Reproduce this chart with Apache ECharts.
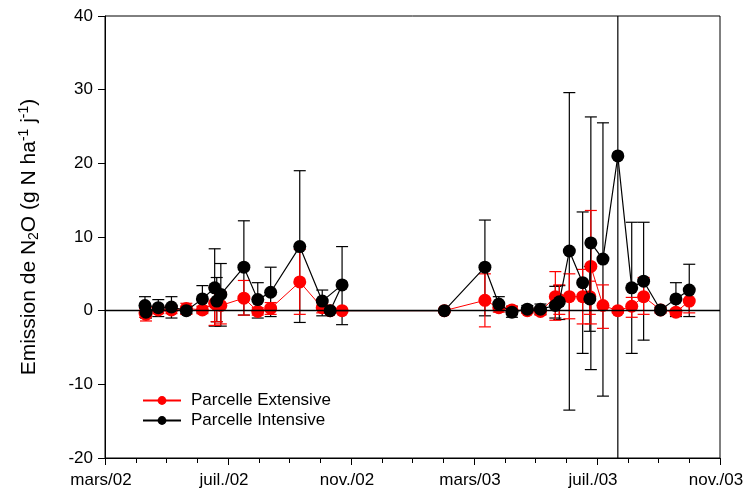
<!DOCTYPE html>
<html>
<head>
<meta charset="utf-8">
<script src="https://cdn.jsdelivr.net/npm/echarts@6/dist/echarts.min.js"></script>
<style>
  html, body { margin: 0; padding: 0; background: #fff; }
  #chart { width: 745px; height: 495px; }
</style>
</head>
<body>
<div id="chart"></div>
<script>
// Sampling dates (in plotting order)
const sampleDates = [
  '2002-04-10', '2002-04-11', '2002-04-23', '2002-05-06', '2002-05-21',
  '2002-06-06', '2002-06-18', '2002-06-20', '2002-06-24', '2002-07-17',
  '2002-07-31', '2002-08-13', '2002-09-11', '2002-10-03', '2002-10-23',
  '2002-10-11', '2003-02-02', '2003-03-12', '2003-03-26', '2003-04-08',
  '2003-04-23', '2003-05-06', '2003-05-21', '2003-05-25', '2003-06-04',
  '2003-06-17', '2003-06-24', '2003-06-25', '2003-07-07', '2003-07-22',
  '2003-08-05', '2003-08-17', '2003-09-03', '2003-09-18', '2003-10-01'
];

// Parcelle Extensive: mean flux and error-bar bounds (g N ha-1 j-1)
const extensiveMean = [
  -0.3, -0.5, 0.1, 0.1, 0.3, 0.1, 1.0, 0.8, 0.7, 1.7,
  -0.1, 0.3, 3.9, 0.4, 0.0, 0.0, 0.0, 1.4, 0.4, 0.1,
  0.0, -0.1, 1.9, 1.5, 1.9, 1.9, 1.9, 6.0, 0.7, 0.0,
  0.6, 1.9, 0.1, -0.2, 1.3
];
const extensiveLow = [
  -0.9, -1.4, -0.4, -0.4, -0.5, -0.4, -2.0, -1.5, -1.8, -0.6,
  -0.6, -0.5, -0.5, -0.3, -0.2, -0.2, -0.2, -2.2, -0.2, -0.5,
  -0.3, -0.6, -1.3, -0.5, -1.1, -1.8, -0.5, -1.8, -2.4, -0.3,
  -0.9, -0.5, -0.3, -0.6, -0.3
];
const extensiveHigh = [
  0.3, 0.4, 0.6, 0.6, 1.0, 0.6, 3.2, 2.6, 2.5, 4.1,
  0.4, 1.1, 8.3, 1.1, 0.2, 0.2, 0.2, 5.0, 1.0, 0.6,
  0.3, 0.4, 5.3, 3.5, 5.0, 5.6, 4.0, 13.6, 3.5, 0.3,
  1.8, 4.5, 0.4, 0.2, 2.9
];

// Parcelle Intensive: mean flux and error-bar bounds (g N ha-1 j-1)
const intensiveMean = [
  0.7, -0.2, 0.4, 0.5, 0.0, 1.6, 3.1, 1.3, 2.2, 5.9,
  1.5, 2.5, 8.7, 1.3, 3.5, 0.0, 0.0, 5.9, 0.9, -0.2,
  0.2, 0.2, 0.7, 1.2, 8.1, 3.8, 1.6, 9.2, 7.0, 21.0,
  3.1, 4.0, 0.1, 1.6, 2.8
];
const intensiveLow = [
  -0.5, -1.0, -0.8, -1.0, -0.4, -0.2, -2.1, -1.5, -2.1, -0.6,
  -1.0, -0.8, -1.6, -0.7, -1.9, -0.3, 0.0, -0.7, 0.0, -0.9,
  -0.3, -0.5, -1.0, -1.2, -13.5, -5.8, -2.8, -8.0, -11.6, -30.0,
  -5.8, -4.0, -0.3, -0.8, -0.8
];
const intensiveHigh = [
  1.9, 0.6, 1.5, 1.9, 0.4, 3.4, 8.4, 4.5, 6.4, 12.2,
  3.8, 5.9, 19.0, 2.8, 8.7, 0.3, 0.0, 12.3, 1.9, 0.6,
  0.7, 0.9, 3.3, 3.4, 29.6, 13.4, 6.0, 26.3, 25.5, 70.0,
  12.0, 12.0, 0.5, 3.8, 6.3
];

// Month tick labels, one every four months starting March 2002
const monthLabels = ['mars/02', 'juil./02', 'nov./02', 'mars/03', 'juil./03', 'nov./03'];

// Convert a date into months elapsed since 1 March 2002
function monthsFromStart(d) {
  const [y, m, day] = d.split('-').map(Number);
  const daysInMonth = new Date(y, m, 0).getDate();
  return (y - 2002) * 12 + (m - 3) + (day - 1) / daysInMonth;
}

const xs = sampleDates.map(monthsFromStart);
const pairs = (vals) => xs.map((x, i) => [x, vals[i]]);
const bars = (lo, hi) => xs.map((x, i) => [x, lo[i], hi[i]]);

function errorBarSeries(name, data, color, z) {
  return {
    name: name,
    type: 'custom',
    clip: true,
    silent: true,
    z: z,
    data: data,
    encode: { x: 0, y: [1, 2] },
    renderItem: function (params, api) {
      const x = api.value(0);
      const lo = api.coord([x, api.value(1)]);
      const hi = api.coord([x, api.value(2)]);
      const half = 6;
      const style = { stroke: color, lineWidth: 1.2, fill: null };
      return {
        type: 'group',
        children: [
          { type: 'line', shape: { x1: lo[0], y1: lo[1], x2: hi[0], y2: hi[1] }, style: style },
          { type: 'line', shape: { x1: lo[0] - half, y1: lo[1], x2: lo[0] + half, y2: lo[1] }, style: style },
          { type: 'line', shape: { x1: hi[0] - half, y1: hi[1], x2: hi[0] + half, y2: hi[1] }, style: style }
        ]
      };
    }
  };
}

const chart = echarts.init(document.getElementById('chart'), null, { renderer: 'canvas' });

chart.setOption({
  animation: false,
  backgroundColor: '#fff',
  textStyle: { fontFamily: 'Liberation Sans, Arial, sans-serif', color: '#000' },
  grid: {
    left: 105, right: 25, top: 16, bottom: 37,
    outerBoundsMode: 'none',
    containLabel: false,
    show: true, borderColor: '#000', borderWidth: 1, backgroundColor: 'transparent'
  },
  legend: {
    data: ['Parcelle Extensive', 'Parcelle Intensive'],
    orient: 'vertical',
    left: 142, top: 392,
    padding: 0,
    itemWidth: 38, itemHeight: 11, itemGap: 3,
    textStyle: { fontSize: 17, color: '#000', padding: [0, 0, 0, 5] }
  },
  xAxis: {
    type: 'value',
    position: 'bottom',
    min: 0, max: 20, interval: 4,
    axisLine: { onZero: false, lineStyle: { color: '#000', width: 1 } },
    axisTick: { show: true, inside: false, length: 7, lineStyle: { color: '#000' } },
    minorTick: { show: true, splitNumber: 4, length: 5, lineStyle: { color: '#000' } },
    splitLine: { show: false },
    axisLabel: {
      fontSize: 17, color: '#000', margin: 14,
      padding: [0, 8, 0, 0],
      formatter: (v) => monthLabels[Math.round(v / 4)] || ''
    }
  },
  yAxis: {
    type: 'value',
    position: 'left',
    min: -20, max: 40, interval: 10,
    axisLine: { show: true, onZero: false, lineStyle: { color: '#000', width: 1 } },
    axisTick: { show: true, inside: false, length: 7, lineStyle: { color: '#000' } },
    splitLine: { show: false },
    axisLabel: { fontSize: 17, color: '#000', margin: 12 },
    name: '{n|Emission de N}{s|2}{n|O (g N ha}{p|-1}{n| j}{p|-1}{n|)}',
    nameLocation: 'middle',
    nameGap: 62,
    nameTextStyle: {
      rich: {
        n: { fontSize: 21, lineHeight: 27, color: '#000' },
        s: { fontSize: 14, lineHeight: 14, padding: [10, 0, 0, 0], color: '#000' },
        p: { fontSize: 14, lineHeight: 14, padding: [0, 0, 10, 0], color: '#000' }
      }
    }
  },
  series: [
    errorBarSeries('err-int', bars(intensiveLow, intensiveHigh), '#000', 2),
    errorBarSeries('err-ext', bars(extensiveLow, extensiveHigh), '#ff0000', 3),
    {
      name: 'Parcelle Extensive',
      type: 'line',
      z: 4,
      data: pairs(extensiveMean),
      symbol: 'circle',
      symbolSize: 13,
      lineStyle: { color: '#ff0000', width: 1 },
      itemStyle: { color: '#ff0000' }
    },
    {
      name: 'Parcelle Intensive',
      type: 'line',
      z: 5,
      data: pairs(intensiveMean),
      symbol: 'circle',
      symbolSize: 13,
      lineStyle: { color: '#000', width: 1.2 },
      itemStyle: { color: '#000' },
      markLine: {
        silent: true,
        symbol: ['none', 'none'],
        label: { show: false },
        lineStyle: { color: '#000', width: 1.3, type: 'solid' },
        data: [{ yAxis: 0 }]
      }
    }
  ]
});
</script>
</body>
</html>
